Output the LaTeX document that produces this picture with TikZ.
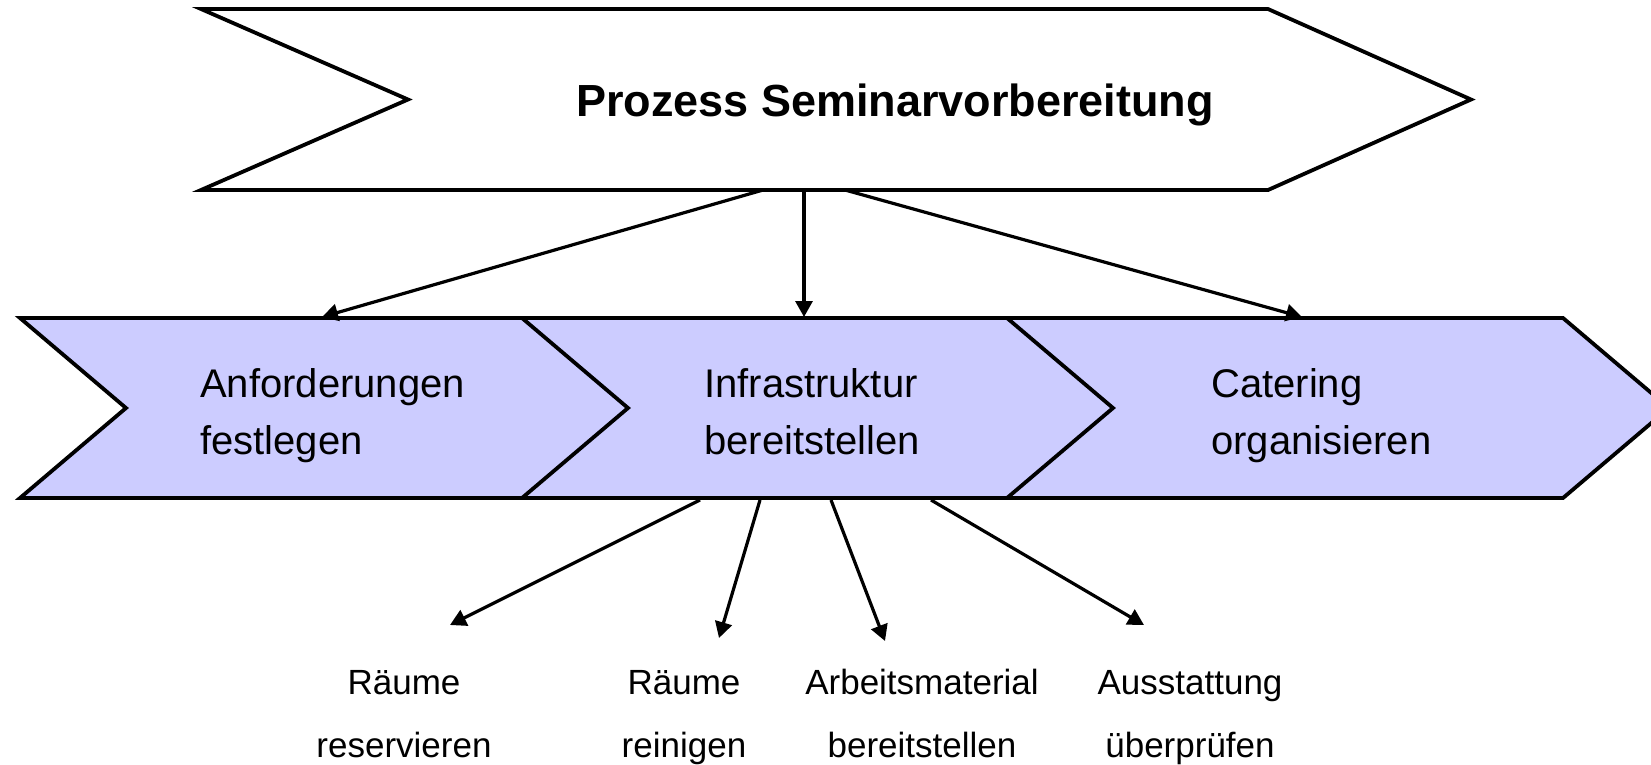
\documentclass[tikz,border=0pt]{standalone}
\usepackage{fontspec}
\setmainfont{Liberation Sans}
\usetikzlibrary{arrows.meta}
\definecolor{phasefill}{HTML}{CCCCFF}
\tikzset{
  outline/.style={draw=black, line width=3.8pt, line join=miter},
  phase/.style={outline, fill=phasefill},
  link/.style={line width=3.2pt, -{Triangle[length=16pt,width=17pt]}},
  titletext/.style={font=\fontsize{45}{52}\selectfont\bfseries, inner sep=0, anchor=base},
  % multi-line nodes: the base anchor sits on the last line
  phasetext/.style={font=\fontsize{40}{57}\selectfont, align=left, inner sep=0, anchor=base west},
  tasktext/.style={font=\fontsize{35}{63}\selectfont, align=center, inner sep=0, anchor=base},
}
\begin{document}
\begin{tikzpicture}[x=1pt,y=-1pt]
\useasboundingbox (0,0) rectangle (1651,764);
\fill[white] (0,0) rectangle (1651,764);

% main process arrow
\draw[outline, fill=white] (201,9) -- (1268,9) -- (1471,99.5) -- (1268,190) -- (201,190) -- (408,99.5) -- cycle;
\node[titletext] (title) at (895,116) {Prozess Seminarvorbereitung};
\coordinate (mainA) at (763,190);
\coordinate (mainB) at (804,190);
\coordinate (mainC) at (845,190);

% sub-process chevrons, each drawn over the previous one
\foreach \x in {20, 522, 1007}{
  \draw[phase] (\x,318) -- (\x+556,318) -- (\x+662,408) -- (\x+556,498) -- (\x,498) -- (\x+106,408) -- cycle;
}
\node[phasetext] (anf) at (200,454) {Anforderungen\\festlegen};
\node[phasetext] (inf) at (704,454) {Infrastruktur\\bereitstellen};
\node[phasetext] (cat) at (1211,454) {Catering\\organisieren};

\coordinate (anfTop) at (322,317);
\coordinate (infTop) at (804,317);
\coordinate (catTop) at (1302,317);

\draw[link] (mainA) -- (anfTop);
\draw[link] (mainB) -- (infTop);
\draw[link] (mainC) -- (catTop);

% tasks of the infrastructure step
\coordinate (infA) at (700,500);
\coordinate (infB) at (760,500);
\coordinate (infC) at (831,500);
\coordinate (infD) at (931,500);

\node[tasktext] (t1) at (404,757) {Räume\\reservieren};
\node[tasktext] (t2) at (684,757) {Räume\\reinigen};
\node[tasktext] (t3) at (922,757) {Arbeitsmaterial\\bereitstellen};
\node[tasktext] (t4) at (1190,757) {Ausstattung\\überprüfen};

\coordinate (t1end) at (450,625);
\coordinate (t2end) at (719,638);
\coordinate (t3end) at (885,641);
\coordinate (t4end) at (1144,625);

\draw[link] (infA) -- (t1end);
\draw[link] (infB) -- (t2end);
\draw[link] (infC) -- (t3end);
\draw[link] (infD) -- (t4end);
\end{tikzpicture}
\end{document}
